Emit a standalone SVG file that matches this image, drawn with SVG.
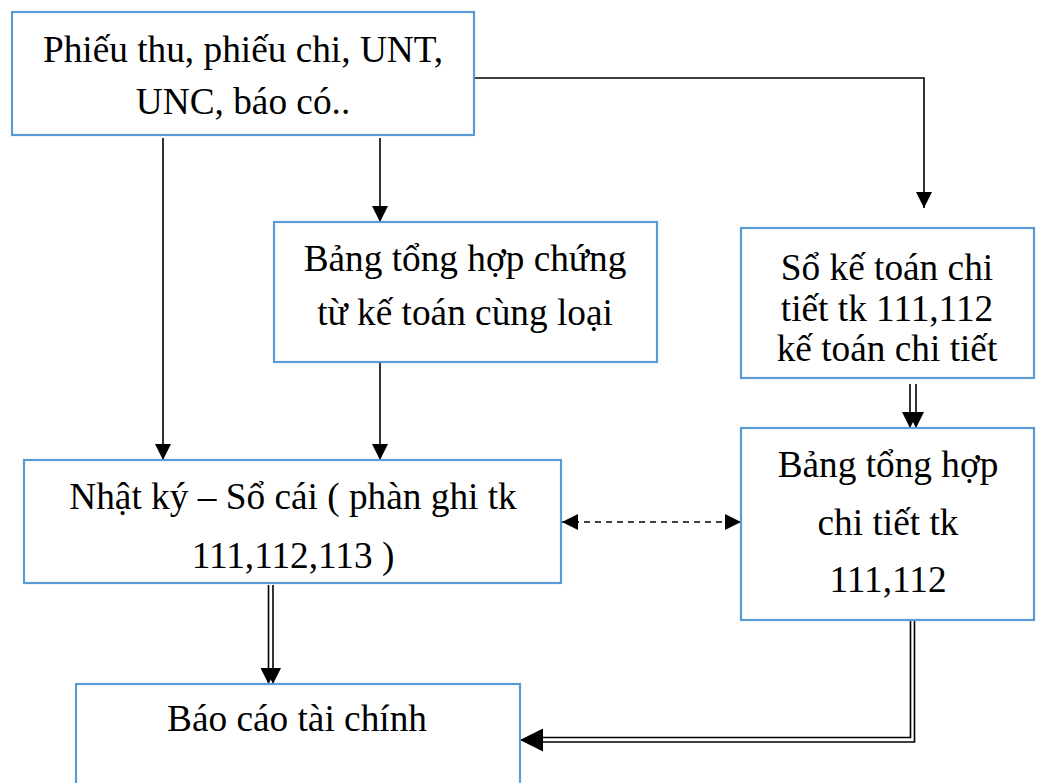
<svg xmlns="http://www.w3.org/2000/svg" width="1040" height="783" viewBox="0 0 1040 783">
  <style>
    .box { fill: #ffffff; stroke: #5b9bd5; stroke-width: 2.2; }
    .lbl { font-family: "Liberation Serif", "Times New Roman", serif; font-size: 37.3px; fill: #000000; text-anchor: middle; }
    .ln { fill: none; stroke: #000000; stroke-width: 1.6; }
    .dash { fill: none; stroke: #000000; stroke-width: 1.6; stroke-dasharray: 6 5; }
  </style>
  <defs>
    <marker id="arrBig" viewBox="0 0 14 14" refX="14" refY="7" markerWidth="16" markerHeight="16" markerUnits="userSpaceOnUse" orient="auto-start-reverse">
      <path d="M0,0 L14,7 L0,14 Z" fill="#000"/>
    </marker>
    <marker id="arrHuge" viewBox="0 0 14 14" refX="14" refY="7" markerWidth="23" markerHeight="23" markerUnits="userSpaceOnUse" orient="auto">
      <path d="M0,0 L14,7 L0,14 Z" fill="#000"/>
    </marker>
  </defs>

  <rect x="0" y="0" width="1040" height="783" fill="#ffffff"/>

  <g id="connectors">
    <!-- source documents straight down to the ledger -->
    <line class="ln" x1="163" y1="138" x2="163" y2="460" marker-end="url(#arrBig)"/>
    <!-- source documents to summary of vouchers -->
    <line class="ln" x1="380" y1="138" x2="380" y2="222" marker-end="url(#arrBig)"/>
    <!-- summary of vouchers to ledger -->
    <line class="ln" x1="380" y1="362" x2="380" y2="460" marker-end="url(#arrBig)"/>
    <!-- source documents to detail books -->
    <path class="ln" d="M475,78 H924 V208" marker-end="url(#arrBig)"/>
    <!-- detail books to detail summary (double) -->
    <line class="ln" x1="910" y1="384" x2="910" y2="428" marker-end="url(#arrBig)"/>
    <line class="ln" x1="916" y1="384" x2="916" y2="428" marker-end="url(#arrBig)"/>
    <!-- cross-check between ledger and detail summary -->
    <line class="dash" x1="562" y1="522" x2="741" y2="522" marker-start="url(#arrBig)" marker-end="url(#arrBig)"/>
    <!-- ledger to financial report (double) -->
    <line class="ln" x1="268.5" y1="585" x2="268.5" y2="684" marker-end="url(#arrBig)"/>
    <line class="ln" x1="273" y1="585" x2="273" y2="684" marker-end="url(#arrBig)"/>
    <!-- detail summary to financial report (double) -->
    <path class="ln" d="M910.5,606 V737.5 H540"/>
    <path class="ln" d="M914.5,606 V742 H540"/>
    <line class="ln" x1="540" y1="740" x2="520" y2="740" stroke-width="0" marker-end="url(#arrHuge)"/>
  </g>

  <g id="n-source">
    <rect class="box" x="12" y="12" width="462" height="123"/>
    <text class="lbl" x="243" y="62">Phiếu thu, phiếu chi, UNT,</text>
    <text class="lbl" x="243" y="114">UNC, báo có..</text>
  </g>

  <g id="n-voucher-summary">
    <rect class="box" x="274" y="222" width="383" height="140"/>
    <text class="lbl" x="465" y="271">Bảng tổng hợp chứng</text>
    <text class="lbl" x="465" y="325">từ kế toán cùng loại</text>
  </g>

  <g id="n-detail-books">
    <rect class="box" x="741" y="228" width="293" height="150"/>
    <text class="lbl" x="887" y="280">Sổ kế toán chi</text>
    <text class="lbl" x="887" y="321">tiết tk 111,112</text>
    <text class="lbl" x="887" y="361">kế toán chi tiết</text>
  </g>

  <g id="n-ledger">
    <rect class="box" x="24" y="460" width="537" height="123"/>
    <text class="lbl" x="293" y="509">Nhật ký – Sổ cái ( phàn ghi tk</text>
    <text class="lbl" x="293" y="568">111,112,113 )</text>
  </g>

  <g id="n-detail-summary">
    <rect class="box" x="741" y="428" width="293" height="192"/>
    <text class="lbl" x="888" y="477">Bảng tổng hợp</text>
    <text class="lbl" x="888" y="535">chi tiết tk</text>
    <text class="lbl" x="888" y="592">111,112</text>
  </g>

  <g id="n-report">
    <rect class="box" x="76" y="684" width="444" height="120"/>
    <text class="lbl" x="297" y="731">Báo cáo tài chính</text>
  </g>
</svg>
